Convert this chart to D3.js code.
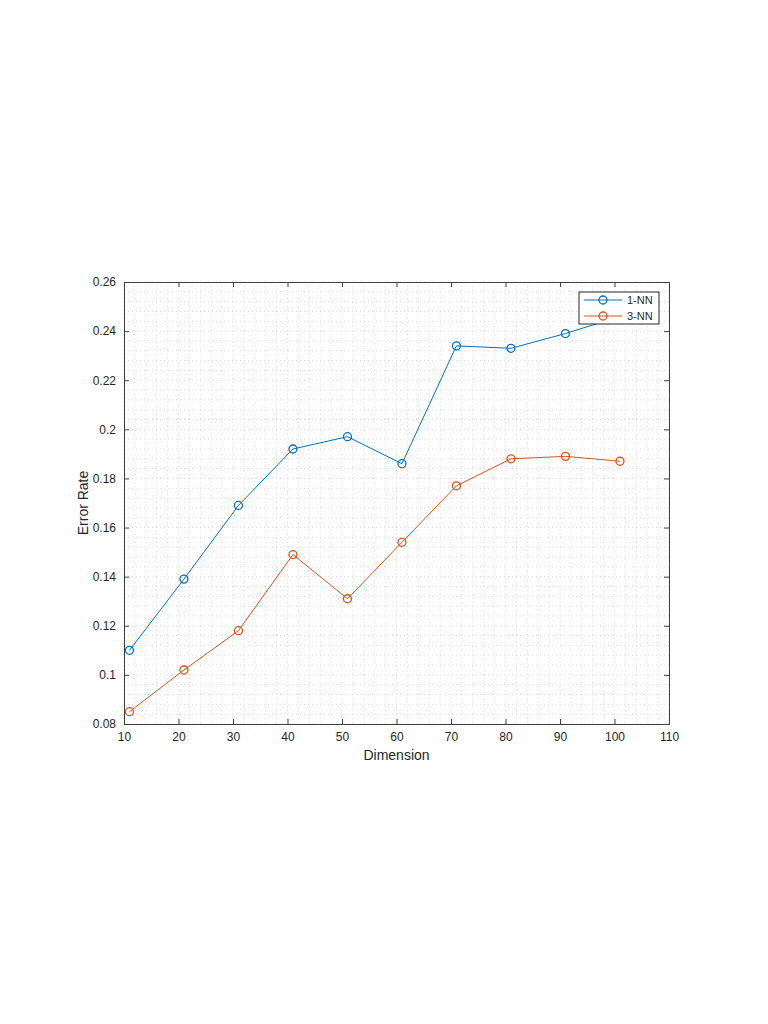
<!DOCTYPE html>
<html>
<head>
<meta charset="utf-8">
<script src="https://cdn.jsdelivr.net/npm/d3@7"></script>
<style>
  body { margin: 0; background: #fff; }
  svg text { font-family: "Liberation Sans", Arial, sans-serif; fill: #262626; }
</style>
</head>
<body>
<svg id="chart" width="768" height="1024"></svg>
<script>
// data
const dims = [11, 21, 31, 41, 51, 61, 71, 81, 91, 101];
const nn1 = [0.110, 0.139, 0.169, 0.192, 0.197, 0.186, 0.234, 0.233, 0.239, 0.246];
const nn3 = [0.085, 0.102, 0.118, 0.149, 0.131, 0.154, 0.177, 0.188, 0.189, 0.187];
const xTicks = [10, 20, 30, 40, 50, 60, 70, 80, 90, 100, 110];
const yTicks = [0.08, 0.1, 0.12, 0.14, 0.16, 0.18, 0.2, 0.22, 0.24, 0.26];
const seriesNames = ["1-NN", "3-NN"];
const colors = ["#0072BD", "#D95319"];

const pLeft = 124, pRight = 669, pTop = 282, pBottom = 724;
const svg = d3.select("#chart");

const x = d3.scaleLinear().domain([10, 110]).range([pLeft, pRight]);
const y = d3.scaleLinear().domain([0.08, 0.26]).range([pBottom, pTop]);

// dotted grid (minor + major)
const g = svg.append("g");
g.selectAll(".vg").data(d3.range(10, 110.01, 2)).enter().append("line")
  .attr("x1", d => x(d)).attr("x2", d => x(d))
  .attr("y1", pTop).attr("y2", pBottom)
  .attr("stroke", "#d2d2d2").attr("stroke-width", 0.8)
  .attr("stroke-dasharray", "1,3");
g.selectAll(".hg").data(d3.range(0.08, 0.2601, 0.004)).enter().append("line")
  .attr("y1", d => y(d)).attr("y2", d => y(d))
  .attr("x1", pLeft).attr("x2", pRight)
  .attr("stroke", "#d2d2d2").attr("stroke-width", 0.8)
  .attr("stroke-dasharray", "1,3");

// axes with inward ticks on all sides
const fmt = d => String(+d.toFixed(2));
svg.append("g").attr("transform", `translate(0,${pBottom})`)
  .call(d3.axisBottom(x).tickValues(xTicks).tickSize(-5).tickPadding(8).tickFormat(d => d))
  .call(a => a.selectAll("text").attr("font-size", 12));
svg.append("g").attr("transform", `translate(0,${pTop})`)
  .call(d3.axisTop(x).tickValues(xTicks).tickSize(-5).tickFormat(""));
svg.append("g").attr("transform", `translate(${pLeft},0)`)
  .call(d3.axisLeft(y).tickValues(yTicks).tickSize(-5).tickPadding(8).tickFormat(fmt))
  .call(a => a.selectAll("text").attr("font-size", 12));
svg.append("g").attr("transform", `translate(${pRight},0)`)
  .call(d3.axisRight(y).tickValues(yTicks).tickSize(-5).tickFormat(""));
svg.selectAll(".domain").attr("stroke", "#404040");
svg.selectAll(".tick line").attr("stroke", "#404040");
svg.selectAll("g").attr("font-family", null);

// series
const line = d3.line().x((d, i) => x(dims[i])).y(d => y(d));
[nn1, nn3].forEach((vals, k) => {
  svg.append("path").datum(vals)
    .attr("d", line).attr("fill", "none")
    .attr("stroke", colors[k]).attr("stroke-width", 1);
  svg.selectAll(".m" + k).data(vals).enter().append("circle")
    .attr("cx", (d, i) => x(dims[i])).attr("cy", d => y(d))
    .attr("r", 4).attr("fill", "none")
    .attr("stroke", colors[k]).attr("stroke-width", 1.3);
});

// legend
const lg = svg.append("g");
lg.append("rect").attr("x", 579).attr("y", 292).attr("width", 80).attr("height", 32)
  .attr("fill", "#fff").attr("stroke", "#262626").attr("stroke-width", 1);
seriesNames.forEach((name, k) => {
  const yy = 300 + k * 16;
  lg.append("line").attr("x1", 584).attr("x2", 622).attr("y1", yy).attr("y2", yy)
    .attr("stroke", colors[k]).attr("stroke-width", 1);
  lg.append("circle").attr("cx", 603).attr("cy", yy).attr("r", 4)
    .attr("fill", "none").attr("stroke", colors[k]).attr("stroke-width", 1.3);
  lg.append("text").attr("x", 627).attr("y", yy + 4).attr("font-size", 11).text(name);
});

// axis labels
svg.append("text").attr("x", (pLeft + pRight) / 2).attr("y", 760)
  .attr("text-anchor", "middle").attr("font-size", 14).text("Dimension");
svg.append("text").attr("transform", `translate(88,${(pTop + pBottom) / 2}) rotate(-90)`)
  .attr("text-anchor", "middle").attr("font-size", 14).text("Error Rate");
</script>
</body>
</html>
